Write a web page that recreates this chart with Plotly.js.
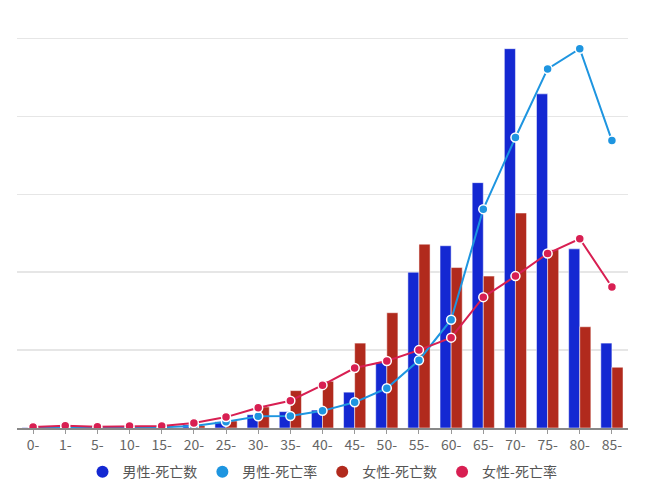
<!DOCTYPE html>
<html>
<head>
<meta charset="utf-8">
<script src="https://cdn.plot.ly/plotly-3.0.1.min.js"></script>
<style>html,body{margin:0;padding:0;background:#fff;}#chart{width:646px;height:500px;}</style>
</head>
<body>
<div id="chart"></div>
<script>
const ageGroups = ["0-","1-","5-","10-","15-","20-","25-","30-","35-","40-","45-","50-","55-","60-","65-","70-","75-","80-","85-"];
const maleDeaths = [0.5,0.3,0.3,0.5,1,4,8,17,21,23,46,84,200,234,315,487,429,230,109];
const maleRate = [0.5,1,0.3,0.5,1,2.5,8,15,15.5,22,33,51,87,139,281,373,461,487,369];
const femaleDeaths = [0.3,0.3,0.2,0.3,0.5,3,9,27,48,60,109,148,236,206,195,276,229,130,78];
const femaleRate = [1.3,3,1.7,2.6,2.6,6.4,14,26,35,55,77,86,100,116,168,195,224,243,181];

const seriesNames = ['男性-死亡数','男性-死亡率','女性-死亡数','女性-死亡率'];
const seriesColors = ['#1428d2','#1e95e0','#b12a1d','#d81f52'];

const traces = [
  {type:'bar', name:seriesNames[0], x:ageGroups, y:maleDeaths, showlegend:false,
   marker:{color:seriesColors[0], line:{color:'#ffffff', width:0.5}}},
  {type:'scatter', mode:'lines+markers', name:seriesNames[1], x:ageGroups, y:maleRate, showlegend:false,
   line:{color:seriesColors[1], width:2},
   marker:{color:seriesColors[1], size:9, line:{color:'#ffffff', width:1.5}}},
  {type:'bar', name:seriesNames[2], x:ageGroups, y:femaleDeaths, showlegend:false,
   marker:{color:seriesColors[2], line:{color:'#ffffff', width:0.5}}},
  {type:'scatter', mode:'lines+markers', name:seriesNames[3], x:ageGroups, y:femaleRate, showlegend:false,
   line:{color:seriesColors[3], width:2},
   marker:{color:seriesColors[3], size:9, line:{color:'#ffffff', width:1.5}}}
];
// legend-only entries with round symbols
seriesNames.forEach((n,i)=>{
  traces.push({type:'scatter', mode:'markers', name:n, x:[null], y:[null],
    marker:{color:seriesColors[i], size:14, symbol:'circle'}, hoverinfo:'skip'});
});

const layout = {
  width:646, height:500,
  margin:{l:17, r:18, t:37, b:72},
  paper_bgcolor:'#ffffff', plot_bgcolor:'#ffffff',
  font:{family:'"Noto Sans CJK SC", "Noto Sans", sans-serif', color:'#666666', size:14},
  barmode:'group', bargap:0.31, bargroupgap:0,
  showlegend:true,
  legend:{orientation:'h', x:0.5, xanchor:'center', y:-0.113, yanchor:'middle',
          font:{size:14, color:'#555555'}, itemsizing:'constant', traceorder:'normal',
          itemwidth:30},
  xaxis:{type:'category', range:[-0.5,18.5], autorange:false, showgrid:false, showline:true,
         linecolor:'#888888', linewidth:1.5,
         ticks:'outside', ticklen:4, tickcolor:'#999999', tickfont:{size:14, color:'#666666'},
         fixedrange:true},
  yaxis:{range:[0,502], autorange:false, dtick:100, showgrid:true, gridcolor:'#e6e6e6', gridwidth:1.5,
         showticklabels:false, zeroline:false, showline:false, ticks:'', fixedrange:true}
};

Plotly.newPlot('chart', traces, layout, {displayModeBar:false, staticPlot:true});
</script>
</body>
</html>
